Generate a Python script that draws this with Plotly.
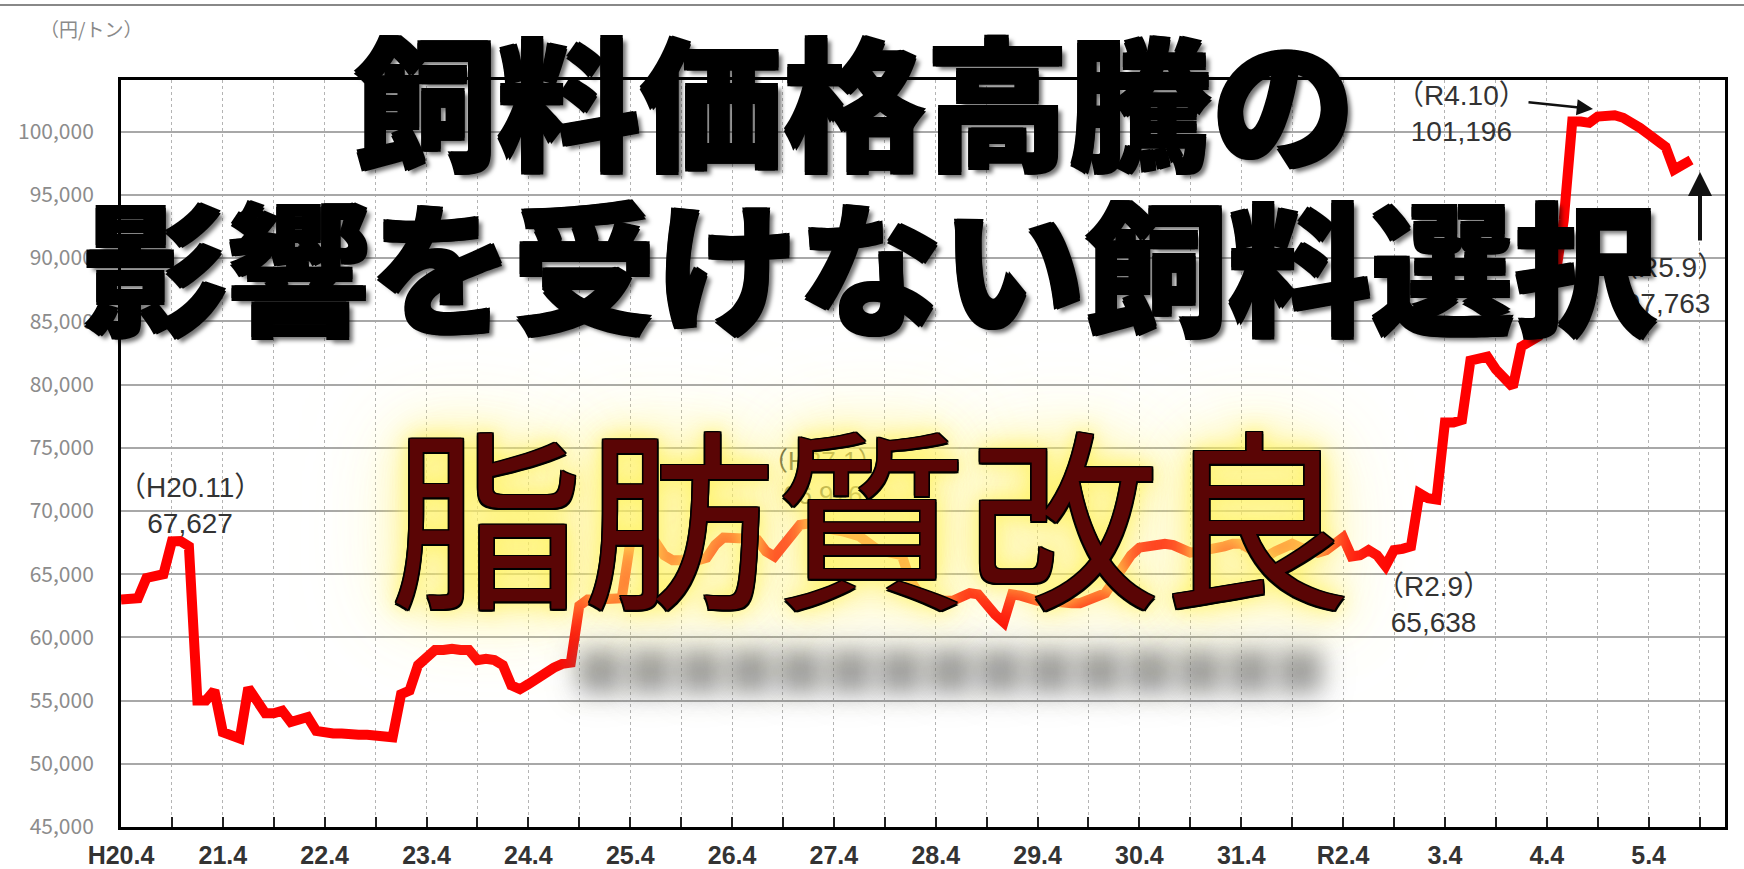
import plotly.graph_objects as go

# ---------------- data ----------------
# monthly compound feed price (yen / ton), H20.4 (Apr 2008) ... R5.9 (Sep 2023)
prices = [
    63000, 63000, 63100, 64700, 64800, 65000, 67600, 67627, 67200,   # H20.4 - H20.12
    55000, 55000, 55800,                                              # H21.1 - H21.3
    52500, 52200, 52000, 56000, 55000, 54000, 54000, 54200, 53300,    # H21.4 - H21.12
    53500, 53700, 52600,                                              # H22.1 - H22.3
    52400, 52400, 52400, 52300, 52300, 52300, 52200, 52200, 52100,    # H22.4 - H22.12
    55500, 55800, 57800,                                              # H23.1 - H23.3
    58500, 59000, 59000, 59100, 59000, 59000, 58200, 58300, 58200,    # H23.4 - H23.12
    57800, 56200, 55900,                                              # H24.1 - H24.3
    56300, 56800, 57200, 57600, 57900, 58000, 62500, 63000, 63000,    # H24.4 - H24.12
    63000, 63000, 63100,                                              # H25.1 - H25.3
    67500, 67600, 67700, 67500, 66500, 66100, 66100, 66200, 66100,    # H25.4 - H25.12
    66300, 67300, 67900,                                              # H26.1 - H26.3
    67900, 67900, 67800, 67700, 66800, 66400, 67300, 68300, 68900,    # H26.4 - H26.12
    69000, 68800, 68500,                                              # H27.1 - H27.3
    68500, 68400, 68300, 68000, 67500, 67000, 66800, 66700, 66500,    # H27.4 - H27.12
    64500, 63500, 63300,                                              # H28.1 - H28.3
    63000, 62900, 62900, 63200, 63500, 63400, 62500, 61800, 61200,    # H28.4 - H28.12
    63400, 63300, 63000,                                              # H29.1 - H29.3
    62900, 62900, 62800, 62700, 62700, 62700, 63000, 63300, 63500,    # H29.4 - H29.12
    64500, 65500, 66500,                                              # H30.1 - H30.3
    67100, 67200, 67300, 67400, 67300, 67000, 66700, 66800, 66900,    # H30.4 - H30.12
    67000, 67200, 67400,                                              # H31.1 - H31.3
    67400, 67000, 66600, 66400, 66800, 67200, 67400, 67100, 66800,    # H31.4 - R1.12
    66700, 66900, 67400,                                              # R2.1 - R2.3
    67900, 66400, 66500, 66900, 66500, 65638, 66900, 67000, 67200,    # R2.4 - R2.12
    71400, 71000, 70900,                                              # R3.1 - R3.3
    77000, 77000, 77200, 81900, 82100, 82200, 81200, 80500, 79800,    # R3.4 - R3.12
    83000, 83500, 83800,                                              # R4.1 - R4.3
    86000, 88500, 93000, 100800, 100800, 100700, 101196, 101200, 101300,  # R4.4 - R4.12
    101100, 100800, 100300,                                           # R5.1 - R5.3
    99800, 99300, 98800, 97000, 97300, 97763,                         # R5.4 - R5.9
]
month_index = list(range(len(prices)))

tick_labels = ["H20.4", "21.4", "22.4", "23.4", "24.4", "25.4", "26.4", "27.4",
               "28.4", "29.4", "30.4", "31.4", "R2.4", "3.4", "4.4", "5.4"]
y_ticks = [45000, 50000, 55000, 60000, 65000, 70000, 75000, 80000, 85000,
           90000, 95000, 100000]

# labelled points: (month index, label)
point_labels = [
    (7, "（H20.11）<br>67,627"),
    (149, "（R2.9）<br>65,638"),
    (174, "（R4.10）<br>101,196"),
    (185, "（R5.9）<br>97,763"),
]
hidden_label = "（H27.1）<br>66,976"

title_line1 = "飼料価格高騰の"
title_line2 = "影響を受けない飼料選択"
sub_title = "脂肪質改良"
unit_label = "（円/トン）"

# ---------------- layout geometry (pixels) ----------------
W, H = 1744, 869
L, R, T, B = 121, 19, 80, 42
PW, PH = W - L - R, H - T - B


def px(x):
    return (x - L) / PW


def py(y):
    return (H - B - y) / PH


JP = "Noto Sans CJK JP, Noto Sans, sans-serif"
LAT = "Liberation Sans, Arial, Noto Sans CJK JP, sans-serif"

fig = go.Figure()
fig.add_trace(go.Scatter(
    x=month_index, y=prices, mode="lines",
    line=dict(color="#ff0000", width=10),
    hoverinfo="skip", showlegend=False,
))

tickvals = list(range(0, 189, 6))
ticktext = [tick_labels[v // 12] if v % 12 == 0 and v // 12 < len(tick_labels) else ""
            for v in tickvals]

fig.update_xaxes(
    range=[0, 189], tickmode="array", tickvals=tickvals, ticktext=ticktext,
    showgrid=True, gridcolor="#b4b4b4", gridwidth=1, griddash="dot",
    ticks="inside", ticklen=10, tickwidth=2, tickcolor="#222",
    showline=True, linecolor="#000", linewidth=3, mirror=True,
    tickfont=dict(family=LAT, size=25, color="#333", weight="bold"),
    ticklabelstandoff=4,
    zeroline=False,
)
fig.update_yaxes(
    range=[45000, 104090], tickmode="array", tickvals=y_ticks,
    ticktext=[f"{v:,}" for v in y_ticks],
    showgrid=True, gridcolor="#a8a8a8", gridwidth=1.5,
    ticks="", ticklabelstandoff=20,
    showline=True, linecolor="#000", linewidth=3, mirror=True,
    tickfont=dict(family=JP, size=21, color="#8c8c8c"),
    zeroline=False,
)

ann = []
# unit label
ann.append(dict(xref="paper", yref="paper", x=px(38), y=py(28), xanchor="left", yanchor="middle",
                text=unit_label, showarrow=False,
                font=dict(family=JP, size=19, color="#8a8a8a")))

# point labels (offset from their data point)
offsets = {7: (10, 35), 149: (48, -38), 174: (-136, 3), 185: (-24, -126)}
for idx, txt in point_labels:
    dx, dy = offsets[idx]
    ann.append(dict(xref="x", yref="y", x=idx, y=prices[idx], xshift=dx, yshift=dy,
                    text=txt, showarrow=False, align="center",
                    xanchor="center", yanchor="middle",
                    font=dict(family=LAT, size=28, color="#333")))

# arrows
ann.append(dict(xref="paper", yref="paper", x=px(1593), y=py(109), ax=-66, ay=-7,
                text="", showarrow=True, arrowhead=2, arrowsize=1.3, arrowwidth=2.5,
                arrowcolor="#111"))
ann.append(dict(xref="paper", yref="paper", x=px(1700), y=py(172), ax=0, ay=70,
                text="", showarrow=True, arrowhead=2, arrowsize=1.2, arrowwidth=4,
                arrowcolor="#111"))

# hidden label behind the yellow glow
ann.append(dict(xref="paper", yref="paper", x=px(822), y=py(478), text=hidden_label,
                showarrow=False, align="center", xanchor="center", yanchor="middle",
                font=dict(family=LAT, size=26, color="#333")))

# grey blurred reflection band: the glyphs sit below the page, only their blurred
# shadow (shifted up) is visible
SHIFT = 330
ann.append(dict(xref="paper", yref="paper", x=px(950), y=py(668 + SHIFT), text="■" * 15,
                showarrow=False, xanchor="center", yanchor="middle",
                font=dict(family=JP, size=50, color="#777",
                          shadow=f"0 -{SHIFT}px 22px rgba(110,110,110,0.55), "
                                 f"0 -{SHIFT}px 34px rgba(130,130,130,0.45)")))

# 脂肪質改良 with glow and outline
outline = ", ".join(f"{a}px {b}px 0 #000" for a, b in
                    [(1.5, 0), (-1.5, 0), (0, 1.5), (0, -1.5), (1.5, 1.5), (-1.5, -1.5),
                     (1.5, -1.5), (-1.5, 1.5)])
glow = ("0 0 18px rgba(255,245,90,0.85), 0 0 35px rgba(255,240,80,0.8), "
        "0 0 65px rgba(255,240,110,0.75), 0 0 100px rgba(255,245,150,0.65)")
ann.append(dict(xref="paper", yref="paper", x=px(871), y=py(510), text=sub_title,
                showarrow=False, xanchor="center", yanchor="middle",
                font=dict(family=JP, size=192, color="#5a0505", weight=400,
                          shadow=outline + ", " + glow)))

# big black title lines
bold_shadow = ("1.5px 1.5px 0 #000, -1.5px -1.5px 0 #000, 1.5px -1.5px 0 #000, "
               "-1.5px 1.5px 0 #000, 5px 5px 4px rgba(0,0,0,0.55)")
ann.append(dict(xref="paper", yref="paper", x=px(854), y=py(96), text=title_line1,
                showarrow=False, xanchor="center", yanchor="middle",
                font=dict(family=JP, size=143, color="#000", weight=900, shadow=bold_shadow)))
ann.append(dict(xref="paper", yref="paper", x=px(870), y=py(261), text=title_line2,
                showarrow=False, xanchor="center", yanchor="middle",
                font=dict(family=JP, size=143, color="#000", weight=900, shadow=bold_shadow)))

shapes = [dict(type="line", xref="paper", yref="paper", x0=px(0), x1=px(W), y0=py(5), y1=py(5),
               line=dict(color="#888", width=2))]

fig.update_layout(
    width=W, height=H, margin=dict(l=L, r=R, t=T, b=B, autoexpand=False),
    paper_bgcolor="#fff", plot_bgcolor="#fff",
    annotations=ann, shapes=shapes, showlegend=False,
)

fig.write_html("out.html", config={"displayModeBar": False})
